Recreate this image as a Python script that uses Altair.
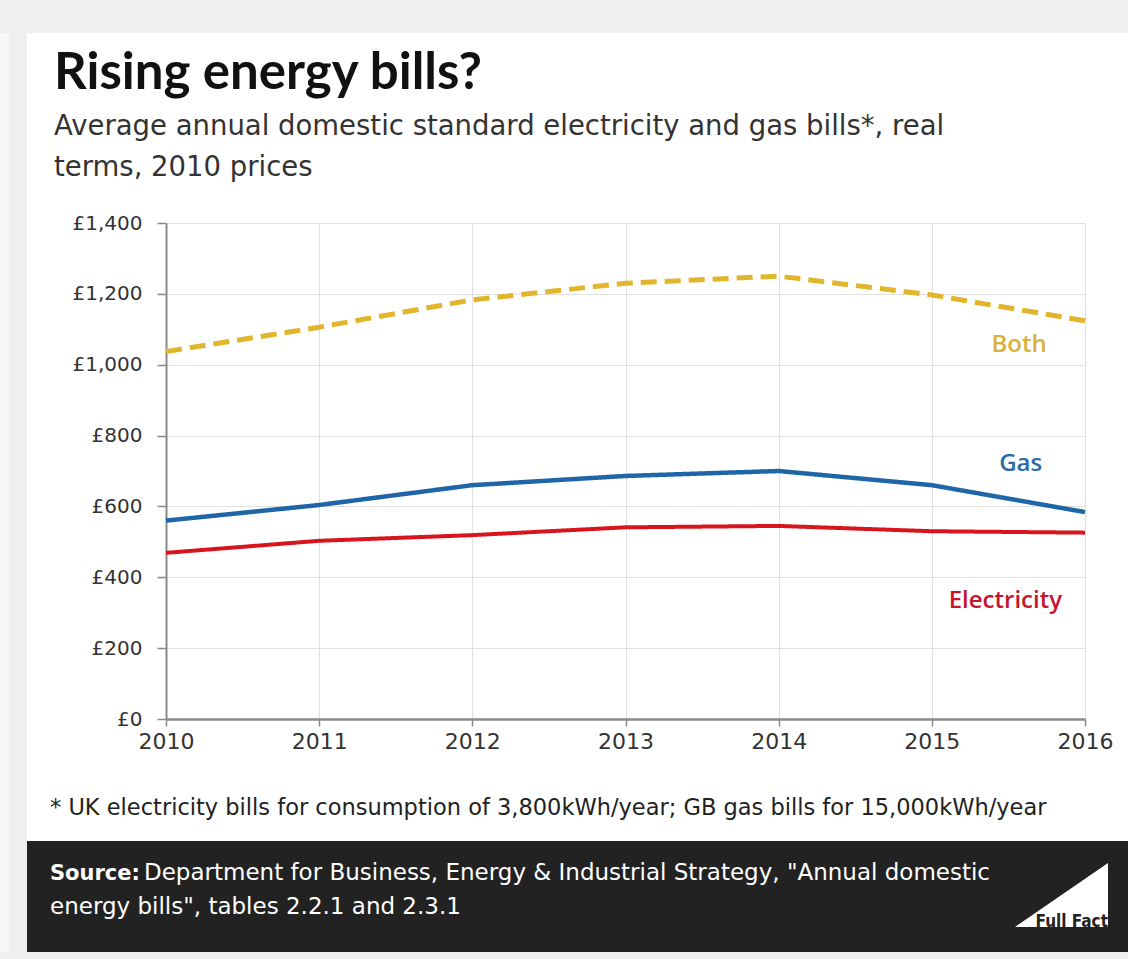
import altair as alt
import pandas as pd

# ---- data -------------------------------------------------------------
years = [2010, 2011, 2012, 2013, 2014, 2015, 2016]
both = [1037, 1106, 1183, 1230, 1250, 1197, 1124]
gas = [560, 604, 660, 686, 700, 660, 584]
electricity = [469, 503, 519, 541, 545, 530, 526]

series_names = ["Both", "Gas", "Electricity"]
line_colors = ["#e2b62c", "#1f66a8", "#d8141d"]
label_colors = ["#d6b23a", "#2c6ba6", "#c4142f"]
label_years = [2015.57, 2015.58, 2015.48]
label_values = [1056, 720, 333]

y_ticks = [0, 200, 400, 600, 800, 1000, 1200, 1400]

title_text = "Rising energy bills?"
subtitle_lines = [
    "Average annual domestic standard electricity and gas bills*, real",
    "terms, 2010 prices",
]
footnote_text = "* UK electricity bills for consumption of 3,800kWh/year; GB gas bills for 15,000kWh/year"
source_bold = "Source:"
source_line1 = "Department for Business, Energy & Industrial Strategy, \"Annual domestic"
source_line2 = "energy bills\", tables 2.2.1 and  2.3.1"
logo_text = "Full Fact"

# ---- geometry of the page ----------------------------------------------
W, H = 919, 496
PAD = {"left": 166, "top": 223, "right": 43, "bottom": 240}

rows = []
for name, vals in zip(series_names, [both, gas, electricity]):
    for yr, v in zip(years, vals):
        rows.append({"year": yr, "value": v, "series": name})
df = pd.DataFrame(rows)

labels_df = pd.DataFrame({"series": series_names, "year": label_years, "value": label_values})

one = pd.DataFrame({"k": [0]})

SANS = "DejaVu Sans"


def rect(color, x, x2, y, y2):
    return alt.Chart(one).mark_rect(color=color).encode(
        x=alt.value(x), x2=alt.value(x2), y=alt.value(y), y2=alt.value(y2)
    )


def text(t, x, y, **kw):
    return alt.Chart(pd.DataFrame({"t": [t]})).mark_text(
        align=kw.pop("align", "left"), baseline="alphabetic", **kw
    ).encode(text="t:N", x=alt.value(x), y=alt.value(y))


# page background pieces
bg = [
    rect("#efefef", -166, 962, -223, -190),
    rect("#efefef", -166, -139, -223, 736),
    rect("#f7f7f7", -166, -157, -190, 736),
    rect("#efefef", -166, 962, 729, 736),
    rect("#222222", -139, 962, 618, 729),
]

xscale = alt.Scale(domain=[2010, 2016], nice=False, zero=False)
yscale = alt.Scale(domain=[0, 1400], nice=False)

lines = alt.Chart(df).mark_line().encode(
    x=alt.X(
        "year:Q",
        scale=xscale,
        title=None,
        axis=alt.Axis(
            values=years, format="d", labelFlush=False, tickSize=7, tickColor="#8a8a8a",
            tickWidth=1.5, domainColor="#8a8a8a", domainWidth=2.5, labelFont=SANS,
            labelFontSize=22, labelColor="#333333", labelPadding=5, grid=True,
            gridColor="#e0e0e0", gridWidth=1,
        ),
    ),
    y=alt.Y(
        "value:Q",
        scale=yscale,
        title=None,
        axis=alt.Axis(
            values=y_ticks, labelExpr="'£' + format(datum.value, ',')", tickSize=9,
            tickColor="#8a8a8a", tickWidth=1.5, domainColor="#8a8a8a", domainWidth=2,
            labelFont=SANS, labelFontSize=20, labelColor="#333333", labelPadding=15,
            grid=True, gridColor="#e0e0e0", gridWidth=1,
        ),
    ),
    color=alt.Color("series:N", scale=alt.Scale(domain=series_names, range=line_colors), legend=None),
    strokeDash=alt.StrokeDash(
        "series:N", scale=alt.Scale(domain=series_names, range=[[16, 8], [1, 0], [1, 0]]), legend=None
    ),
    strokeWidth=alt.StrokeWidth(
        "series:N", scale=alt.Scale(domain=series_names, range=[5, 4, 4]), legend=None
    ),
)

series_labels = alt.Chart(labels_df).mark_text(
    font="Open Sans", fontWeight=600, fontSize=24, align="center", baseline="middle"
).encode(
    x=alt.X("year:Q", scale=xscale, title=None),
    y=alt.Y("value:Q", scale=yscale, title=None),
    text="series:N",
    color=alt.Color("series:N", scale=alt.Scale(domain=series_names, range=label_colors), legend=None),
)

texts = [
    text(title_text, -112, -134, font="Lato", fontWeight="bold", fontSize=51, color="#111111"),
    text(subtitle_lines[0], -112, -88, font=SANS, fontSize=27.5, color="#333333"),
    text(subtitle_lines[1], -112, -47, font=SANS, fontSize=27.5, color="#333333"),
    text(footnote_text, -116, 592, font=SANS, fontSize=22.5, color="#222222"),
    text(source_bold, -116, 657, font=SANS, fontWeight="bold", fontSize=21, color="white"),
    text(source_line1, -22, 657, font=SANS, fontSize=23, color="white"),
    text(source_line2, -116, 691, font=SANS, fontSize=23, color="white"),
]

logo = alt.Chart(one).mark_point(
    shape="M -1 0.688 L 1 -0.688 L 1 0.688 Z", filled=True, color="white", opacity=1, size=8649
).encode(x=alt.value(895.5), y=alt.value(672))
logo_label = text(
    logo_text, 942, 704, align="right",
    font="Liberation Sans Narrow, DejaVu Sans Condensed, sans-serif",
    fontWeight="bold", fontSize=17, color="#222222",
)

chart = (
    alt.layer(*bg, lines, series_labels, *texts, logo, logo_label)
    .resolve_scale(color="independent")
    .properties(
        width=W,
        height=H,
        padding=PAD,
        autosize=alt.AutoSizeParams(type="none"),
        background="white",
    )
    .configure_view(stroke=None)
)

chart.save("out.html", embed_options={"renderer": "svg", "actions": False})
